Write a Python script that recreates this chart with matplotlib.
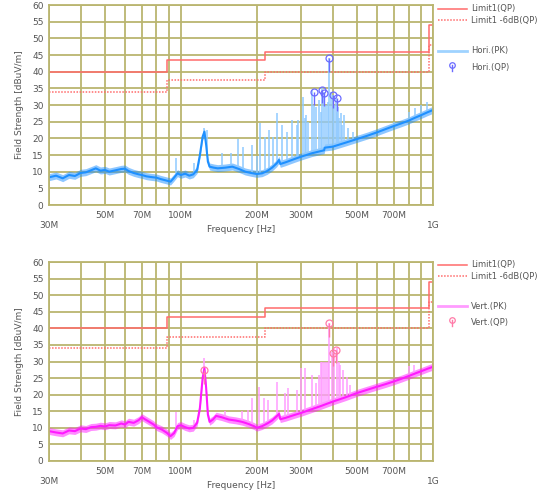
import numpy as np
import matplotlib.pyplot as plt
from matplotlib.lines import Line2D

# Limit lines (MHz edges, dBuV/m)
limit_f = [30, 88, 216, 960, 1000]
limit_qp = [40, 43.5, 46, 54, 54]
limit_6db = [34, 37.5, 40, 48, 48]

# Horizontal polarisation, peak trace (centre of the noise band)
hori_f = [30, 32, 34, 36, 38, 40, 42, 44, 46, 48, 50, 52, 55, 58, 60, 62, 65, 68, 70,
          73, 76, 80, 83, 86, 89, 91, 94, 97, 100, 104, 108, 112, 116, 119, 122, 124,
          126, 128, 130, 135, 140, 150, 160, 170, 180, 190, 200, 210, 220, 230, 240,
          245, 248, 260, 280, 300, 330, 360, 370, 372, 400, 450, 500, 550, 600, 650,
          700, 750, 800, 850, 900, 950, 1000]
hori_pk = [8.3, 8.8, 8.0, 9.0, 8.7, 9.6, 9.8, 10.4, 11.0, 10.3, 10.5, 10.0, 10.4, 10.8,
           10.9, 10.2, 9.6, 9.2, 9.0, 8.6, 8.4, 8.2, 7.8, 7.5, 7.2, 7.0, 8.2, 9.5, 9.0,
           9.4, 8.8, 9.2, 10.5, 15.0, 20.5, 22.0, 18.0, 13.0, 11.5, 11.2, 11.0, 11.2,
           11.5, 10.8, 10.0, 9.6, 9.3, 9.5, 10.2, 11.2, 12.5, 13.5, 12.3, 12.8, 13.7,
           14.5, 15.5, 16.2, 16.4, 17.2, 17.5, 18.7, 19.8, 20.8, 21.8, 22.8, 23.7, 24.5,
           25.3, 26.2, 27.0, 27.8, 28.5]

# Narrow peaks above the hori noise floor
hori_spike_f = [96, 113, 124, 127, 145, 158, 168, 176, 192, 200, 206, 215, 224, 232, 240,
                251, 264, 277, 288, 292, 305, 310, 315, 320, 330, 336, 344, 352, 358, 364,
                370, 376, 382, 388, 395, 401, 406, 412, 416, 420, 425, 430, 436, 445, 460,
                480, 520, 560, 620, 700, 800, 850, 900, 950]
hori_spike_v = [14, 12.5, 23, 22.5, 15.6, 15.5, 19.8, 17.5, 18, 14.6, 24.7, 20.5, 22.5,
                20.5, 27.6, 24, 22, 25.5, 24, 25.5, 32.5, 26, 27, 25, 34.5, 30, 29.5, 31.5,
                28, 35, 34, 30, 31, 44, 34, 33, 30, 32, 28, 29.5, 26, 27.5, 24, 27, 23, 22,
                21, 22, 23, 25, 28, 29, 30, 31]

hori_qp_f = [337, 364, 371, 388, 401, 418]
hori_qp = [34.0, 34.5, 33.7, 44.0, 33.0, 32.2]

# Vertical polarisation, peak trace
vert_f = [30, 32, 34, 36, 38, 40, 42, 44, 46, 48, 50, 52, 55, 58, 60, 62, 65, 68, 70, 72,
          75, 78, 80, 84, 88, 91, 94, 97, 100, 104, 108, 112, 116, 119, 122, 124, 126,
          128, 130, 134, 138, 145, 155, 165, 175, 185, 195, 200, 210, 220, 230, 240, 245,
          248, 260, 280, 300, 330, 360, 400, 450, 500, 550, 600, 650, 700, 750, 800, 850,
          900, 950, 1000]
vert_pk = [9.0, 8.6, 8.3, 9.2, 9.0, 9.8, 9.6, 10.2, 10.3, 10.6, 10.4, 10.8, 10.7, 11.3,
           11.0, 11.8, 11.5, 12.3, 13.2, 12.6, 11.8, 11.0, 10.2, 9.5, 8.5, 7.5, 8.4, 10.5,
           10.8, 10.2, 9.8, 10.0, 11.5, 16.0, 25.0, 28.0, 22.0, 14.0, 11.8, 12.5, 13.6,
           13.2, 12.5, 12.2, 11.8, 11.2, 10.5, 10.0, 10.5, 11.3, 12.2, 13.5, 14.2, 12.6,
           13.0, 13.8, 14.5, 15.6, 16.6, 17.9, 19.2, 20.5, 21.5, 22.4, 23.2, 24.0, 24.8,
           25.6, 26.4, 27.1, 27.8, 28.4]

vert_spike_f = [96, 113, 124, 150, 175, 185, 192, 205, 214, 222, 241, 258, 267, 290, 300,
                312, 330, 342, 352, 358, 364, 370, 376, 382, 388, 396, 406, 418, 424, 428,
                440, 455, 470, 800, 840]
vert_spike_v = [14.9, 12.5, 31, 15, 15, 15.4, 18.9, 22.4, 18.9, 18.4, 23.9, 20.5, 22, 21.4,
                28, 28, 26, 23.5, 26, 30, 30, 30, 30, 30, 41.5, 33, 33.5, 34, 30, 29, 27.5,
                25.4, 23, 28.5, 29]

vert_qp_f = [124, 388, 401, 412]
vert_qp = [27.3, 41.5, 32.6, 33.4]

x_ticks = [30, 50, 70, 100, 200, 300, 500, 700, 1000]
x_labels = ['\n30M', '50M', '70M', '100M', '200M', '300M', '500M', '700M', '\n1G']
x_grid = [30, 40, 50, 60, 70, 80, 90, 100, 200, 300, 400, 500, 600, 700, 800, 900, 1000]

GRID = '#bab56f'
LIMIT = '#ff6b6b'
TXT = '#555555'
W, H = 549, 492


def floor_at(f, fs, vs):
    # level of the noise floor under a spike
    return np.interp(np.log10(f), np.log10(fs), vs)


def draw_panel(ax, fs, pk, spf, spv, qf, qv, c_line, c_spike, c_qp):
    ax.set_xscale('log')
    ax.set_xlim(30, 1000)
    ax.set_ylim(0, 60)
    ax.set_yticks(range(0, 61, 5))
    ax.set_xticks(x_grid, minor=True)
    ax.set_xticks(x_ticks)
    ax.set_xticklabels(x_labels)
    ax.tick_params(which='both', length=0, labelsize=6.5, colors=TXT, pad=4)
    ax.grid(True, which='both', color=GRID, lw=1.3)
    ax.set_axisbelow(True)
    for s in ax.spines.values():
        s.set_color(GRID)
        s.set_linewidth(1.3)
    ax.set_xlabel('Frequency [Hz]', fontsize=6.5, color=TXT, va='center')
    ax.xaxis.set_label_coords(0.5, -0.122)
    ax.set_ylabel('Field Strength [dBuV/m]', fontsize=6.5, color=TXT, labelpad=6)

    ax.step(limit_f, limit_qp, where='post', color=LIMIT, lw=1.1)
    ax.step(limit_f, limit_6db, where='post', color=LIMIT, lw=1.1, ls=(0, (1, 1)))

    spf = np.array(spf)
    ax.vlines(spf, floor_at(spf, fs, pk), spv, color=c_spike, lw=1.1)
    pk = np.array(pk)
    ax.fill_between(fs, pk - 1.0, pk + 1.1, color=c_line, alpha=0.5, lw=0)
    ax.plot(fs, pk, color=c_line, lw=1.5)

    qf = np.array(qf)
    qv = np.array(qv)
    ax.vlines(qf, qv - 4, qv, color=c_qp, lw=1.0)
    ax.plot(qf, qv, 'o', mfc='none', mec=c_qp, ms=5, mew=0.9)


def draw_legend(ax, rows, c_pk, c_qp):
    box = ax.get_position()

    def ax_xy(px, py):
        return ((px / W - box.x0) / box.width, ((1 - py / H) - box.y0) / box.height)

    styles = [dict(color=LIMIT, lw=1.1), dict(color=LIMIT, lw=1.1, ls=(0, (1, 1))),
              dict(color=c_pk, lw=2.0)]
    for (py, label), st in zip(rows[:3], styles):
        x0, y = ax_xy(438, py)
        x1, _ = ax_xy(467, py)
        ax.add_line(Line2D([x0, x1], [y, y], transform=ax.transAxes, clip_on=False, **st))
        tx, _ = ax_xy(471, py)
        ax.text(tx, y, label, transform=ax.transAxes, fontsize=6, color=TXT, va='center')
    py, label = rows[3]
    xm, y = ax_xy(452, py - 2)
    _, y2 = ax_xy(452, py + 4)
    ax.add_line(Line2D([xm, xm], [y, y2], transform=ax.transAxes, clip_on=False,
                       color=c_qp, lw=1.0))
    ax.add_line(Line2D([xm], [y], transform=ax.transAxes, clip_on=False, marker='o',
                       mfc='none', mec=c_qp, ms=4, mew=0.9, ls='none'))
    tx, yt = ax_xy(471, py)
    ax.text(tx, yt, label, transform=ax.transAxes, fontsize=6, color=TXT, va='center')


fig = plt.figure(figsize=(W / 100, H / 100), dpi=100)
ax1 = fig.add_axes([49 / W, 1 - 205 / H, 384 / W, 200 / H])
ax2 = fig.add_axes([49 / W, 1 - 461 / H, 384 / W, 199 / H])

draw_panel(ax1, hori_f, hori_pk, hori_spike_f, hori_spike_v, hori_qp_f, hori_qp,
           '#1e90ff', '#8fcaff', '#6b6bff')
draw_panel(ax2, vert_f, vert_pk, vert_spike_f, vert_spike_v, vert_qp_f, vert_qp,
           '#ff1aff', '#ff9cff', '#ff7aa8')

draw_legend(ax1, [(9, 'Limit1(QP)'), (20, 'Limit1 -6dB(QP)'), (51, 'Hori.(PK)'),
                  (67, 'Hori.(QP)')], '#9fd3ff', '#6b6bff')
draw_legend(ax2, [(265, 'Limit1(QP)'), (276, 'Limit1 -6dB(QP)'), (306, 'Vert.(PK)'),
                  (322, 'Vert.(QP)')], '#ff9cff', '#ff7aa8')

fig.savefig('out.png', dpi=100)
